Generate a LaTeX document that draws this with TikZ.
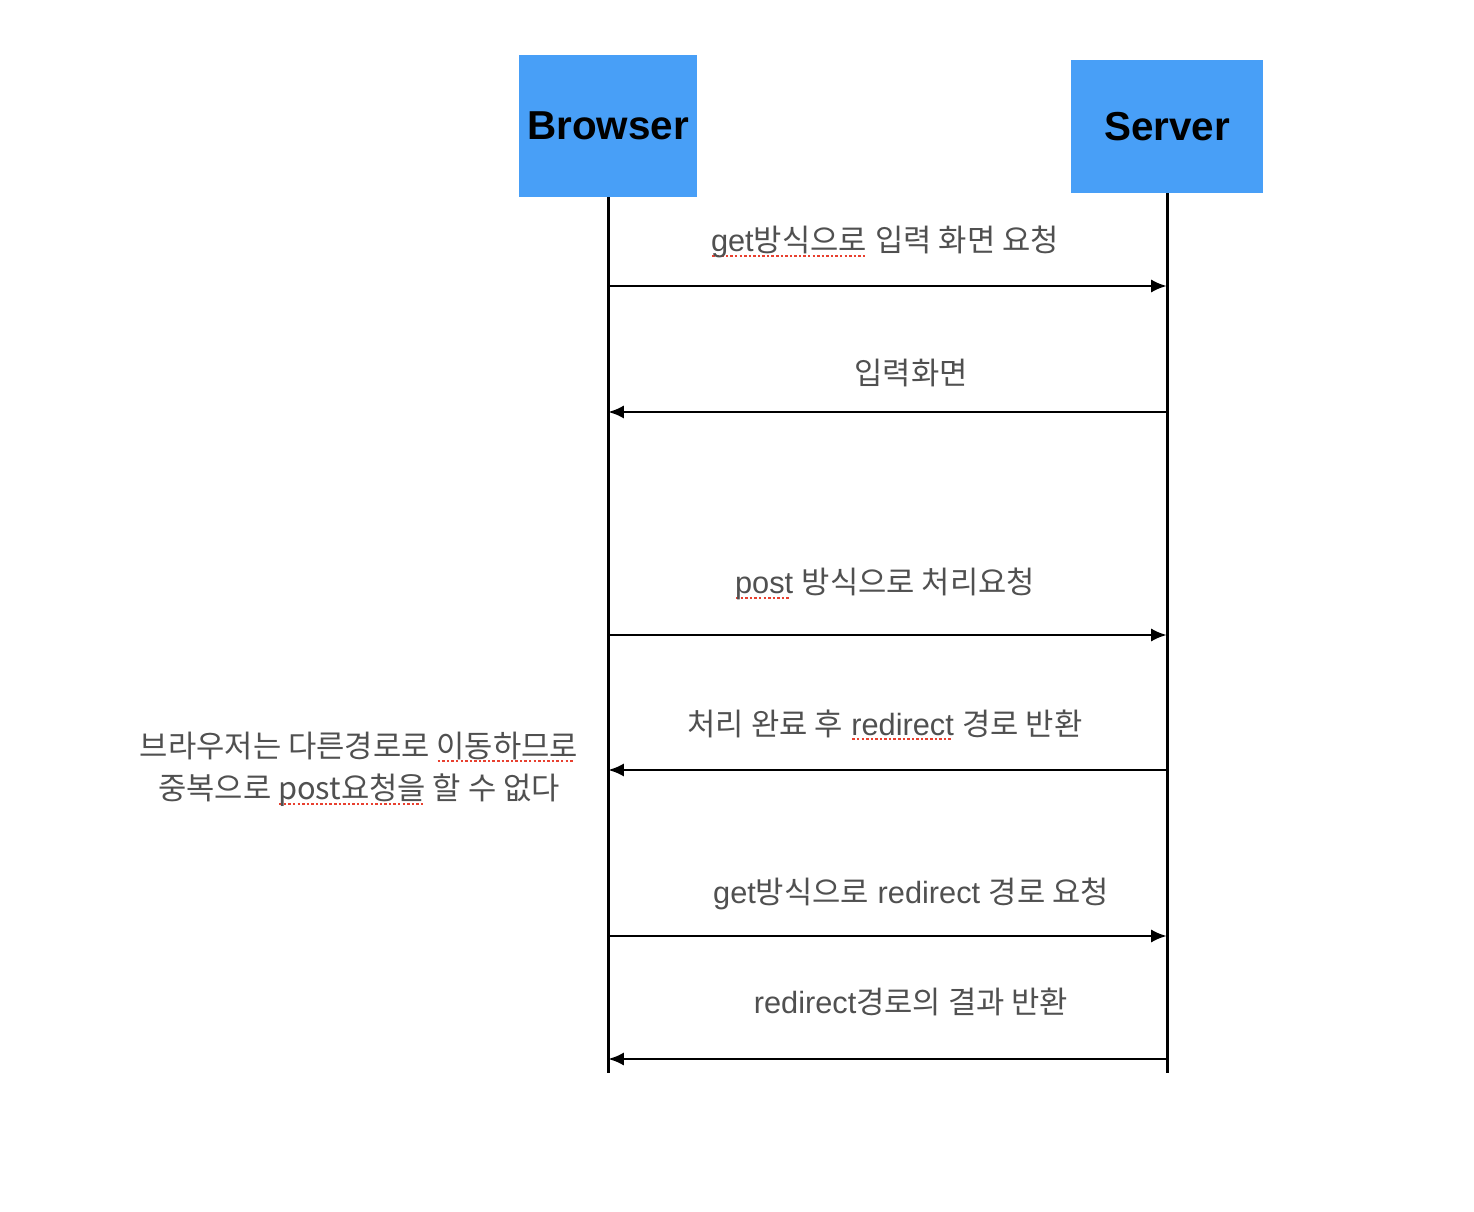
\documentclass[tikz,border=0pt]{standalone}
\usepackage{fontspec}
\setmainfont{Liberation Sans}
\newfontfamily\kofont{Noto Sans CJK KR}
\usetikzlibrary{arrows.meta, positioning, calc}
\definecolor{boxblue}{HTML}{489FF7}
\definecolor{msggray}{HTML}{505050}
\definecolor{typored}{HTML}{E8402F}
\tikzstyle{actor} = [rectangle, fill=boxblue, text=black, font=\fontsize{23}{27}\selectfont\bfseries]
\tikzstyle{lifeline} = [line width=1.7pt]
\tikzstyle{arrow} = [line width=1.7pt,->,>={Latex[length=9pt,width=7.5pt]}]
\tikzstyle{msg} = [text=msggray, align=center, font=\fontsize{17.5}{24}\selectfont]
\newcommand{\ko}[1]{{\kofont #1}}
\newcommand{\typo}[1]{\setbox0\hbox{#1}\rlap{\lower3pt\hbox to\wd0{\color{typored}\leaders\hbox to 2.6pt{\hss\vrule width 1.4pt height 1.1pt\hss}\hfill}}\box0\relax}

\begin{document}
\begin{tikzpicture}[x=0.02cm, y=-0.02cm]
\useasboundingbox (0,0) rectangle (1474,1212);

% Definizione dei nodi
\node (browser) [actor, minimum width=3.56cm, minimum height=2.84cm] at (608,126) {Browser};
\node (server) [actor, minimum width=3.84cm, minimum height=2.66cm] at (1167,126.5) {Server};
\coordinate (bend) at (608,1073);
\coordinate (send) at (1167,1073);

\coordinate (b1) at (608,286);  \coordinate (s1) at (1167,286);
\coordinate (b2) at (608,412);  \coordinate (s2) at (1167,412);
\coordinate (b3) at (608,635);  \coordinate (s3) at (1167,635);
\coordinate (b4) at (608,770);  \coordinate (s4) at (1167,770);
\coordinate (b5) at (608,936);  \coordinate (s5) at (1167,936);
\coordinate (b6) at (608,1059); \coordinate (s6) at (1167,1059);

\node (getform) [msg] at (885,242) {\typo{get\ko{방식으로}} \ko{입력 화면 요청}};
\node (form) [msg] at (911,373) {\ko{입력화면}};
\node (postreq) [msg] at (885,584) {\typo{post} \ko{방식으로 처리요청}};
\node (redir) [msg] at (885,725) {\ko{처리 완료 후} \typo{redirect} \ko{경로 반환}};
\node (getredir) [msg] at (911,894) {get\ko{방식으로} redirect \ko{경로 요청}};
\node (result) [msg] at (911,1002) {redirect\ko{경로의 결과 반환}};
\node (note) [msg] at (359,769) {\ko{브라우저는 다른경로로 \typo{이동하므로}}\\\ko{중복으로 \typo{post요청을} 할 수 없다}};

% Connessione tra i nodi
\draw [lifeline] (browser.south) -- (bend);
\draw [lifeline] (server.south) -- (send);
\draw [arrow] (b1) -- (s1);
\draw [arrow] (s2) -- (b2);
\draw [arrow] (b3) -- (s3);
\draw [arrow] (s4) -- (b4);
\draw [arrow] (b5) -- (s5);
\draw [arrow] (s6) -- (b6);

\end{tikzpicture}
\end{document}
